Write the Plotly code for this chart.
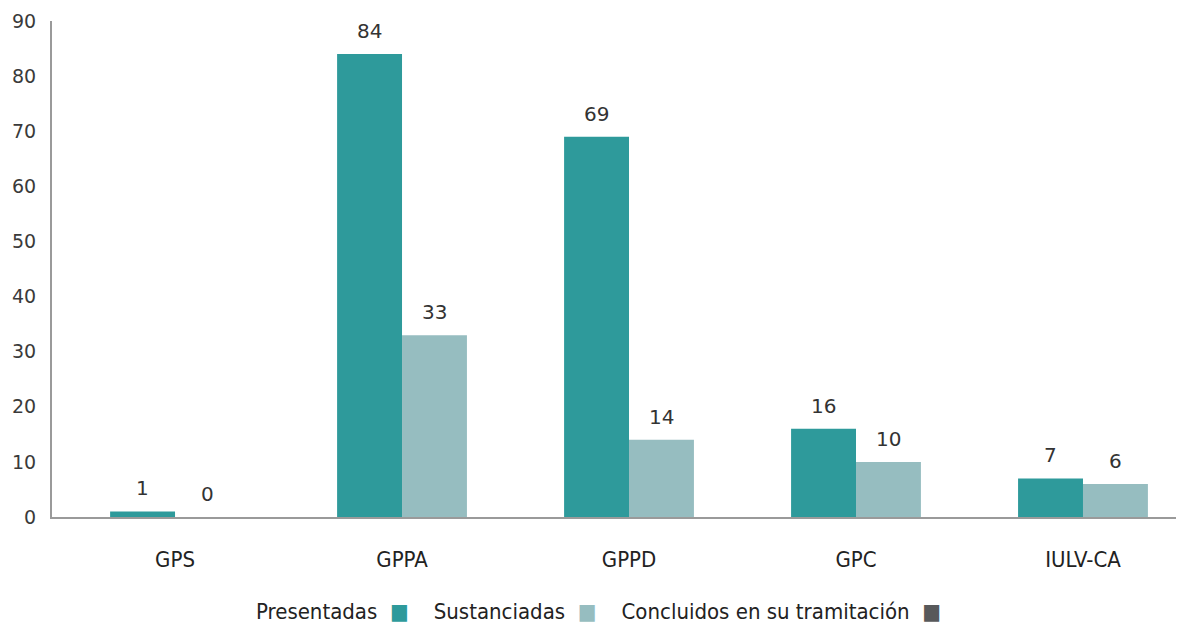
import plotly.graph_objects as go

categories = ["GPS", "GPPA", "GPPD", "GPC", "IULV-CA"]
series_names = ["Presentadas", "Sustanciadas", "Concluidos en su tramitación"]
presentadas = [1, 84, 69, 16, 7]
sustanciadas = [0, 33, 14, 10, 6]
concluidos = [None, None, None, None, None]
y_ticks = [0, 10, 20, 30, 40, 50, 60, 70, 80, 90]

colors = ["#2e9a9b", "#96bdc0", "#58595b"]
W = 0.286
FONT = "DejaVu Sans"
FONT_C = "DejaVu Sans Condensed"

idx = list(range(len(categories)))
fig = go.Figure()
fig.add_trace(go.Bar(x=idx, y=presentadas, width=W, offset=-W, name=series_names[0],
                     marker=dict(color=colors[0], line=dict(width=0)), showlegend=False))
fig.add_trace(go.Bar(x=idx, y=sustanciadas, width=W, offset=0, name=series_names[1],
                     marker=dict(color=colors[1], line=dict(width=0)), showlegend=False))
fig.add_trace(go.Bar(x=idx, y=concluidos, width=W, offset=W, name=series_names[2],
                     marker=dict(color=colors[2], line=dict(width=0)), showlegend=False))

annotations = []
for i, v in enumerate(presentadas):
    annotations.append(dict(x=i - W / 2, y=v, xref="x", yref="y", text=str(v), showarrow=False,
                            yanchor="bottom", yshift=9, font=dict(family=FONT, size=20, color="#333333")))
for i, v in enumerate(sustanciadas):
    annotations.append(dict(x=i + W / 2, y=v, xref="x", yref="y", text=str(v), showarrow=False,
                            yanchor="bottom", yshift=9, font=dict(family=FONT, size=20, color="#333333")))

sp = "&nbsp;"
parts = []
for name, c in zip(series_names, colors):
    parts.append(f"{name}{sp * 2}<span style='color:{c}'>■</span>")
legend_text = (sp * 4).join(parts)
annotations.append(dict(x=0.483, y=-0.19, xref="paper", yref="paper", text=legend_text,
                        showarrow=False, xanchor="center", yanchor="middle",
                        font=dict(family=FONT_C, size=22, color="#222222")))

fig.update_layout(
    width=1176, height=615,
    margin=dict(l=44, r=0, t=13, b=106, pad=0),
    paper_bgcolor="white", plot_bgcolor="white",
    barmode="overlay",
    showlegend=False,
    annotations=annotations,
    xaxis=dict(range=[-0.542, 4.445], tickmode="array", tickvals=idx, ticktext=categories,
               showgrid=False, zeroline=False, showline=True, linecolor="#9a9a9a", linewidth=2,
               ticks="outside", ticklen=22, tickcolor="rgba(0,0,0,0)",
               tickfont=dict(family=FONT_C, size=22, color="#222222")),
    yaxis=dict(range=[0, 90], tickmode="array", tickvals=y_ticks,
               showgrid=False, zeroline=False, showline=True, linecolor="#9a9a9a", linewidth=2,
               ticks="outside", ticklen=10, tickcolor="rgba(0,0,0,0)",
               tickfont=dict(family=FONT, size=19, color="#3a3a3a")),
)

fig.write_html("out.html")
